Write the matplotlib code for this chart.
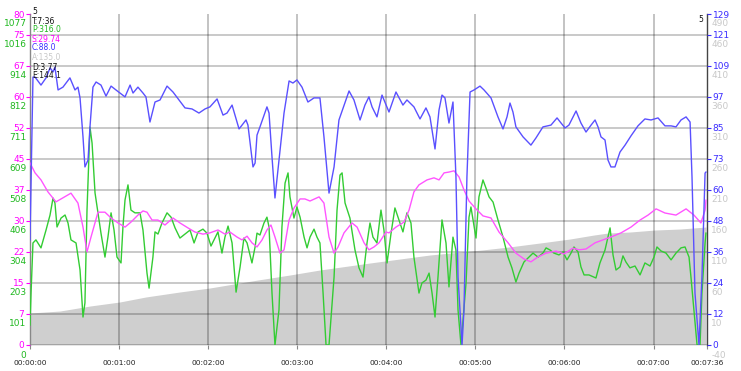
import matplotlib
matplotlib.use("Agg")
import matplotlib.pyplot as plt
from matplotlib.transforms import ScaledTranslation

plt.rcParams['font.family'] = ['DejaVu Sans']

# ---------------- data ----------------
# time in seconds
x_max = 456
xtick_s = [0, 60, 120, 180, 240, 300, 360, 420, 456]
xtick_labels = ["00:00:00", "00:01:00", "00:02:00", "00:03:00", "00:04:00",
                "00:05:00", "00:06:00", "00:07:00", "00:07:36"]
xgrid_s = [60, 120, 180, 240, 300, 360, 420]

# axis ranges and tick labels
spd_max = 80
pwr_max = 1077
cad_max = 129
alt_min, alt_max = -40, 490
spd_labels = ["0", "7", "15", "22", "30", "37", "45", "52", "60", "67", "75", "80"]
pwr_labels = ["0", "101", "203", "304", "406", "508", "609", "711", "812", "914", "1016", "1077"]
cad_labels = ["0", "12", "24", "36", "48", "60", "73", "85", "97", "109", "121", "129"]
alt_labels = ["-40", "10", "60", "110", "160", "210", "260", "310", "360", "410", "460", "490"]

# altitude (m)
alt_t = [0, 20.2, 40.4, 60.6, 78.1, 101.0, 121.2, 153.6, 175.1, 195.3, 229.0, 249.2,
         269.4, 304.4, 322.6, 343.5, 363.7, 379.9, 389.3, 404.1, 421.0, 437.8, 455.3]
alt_v = [11.2, 14.4, 22.4, 28.9, 36.9, 44.9, 51.3, 64.1, 72.1, 80.1, 91.3, 97.7,
         104.1, 112.1, 116.9, 123.3, 129.7, 136.1, 139.3, 140.9, 144.1, 145.7, 148.9]

# power (W)
pwr_t = [0, 0.7, 2.0, 4.0, 7.4, 10.8, 13.5, 15.5, 16.8, 18.2, 20.9, 23.6, 25.6, 27.6, 31.0, 33.7, 35.7, 37.0,
         38.4, 40.4, 41.8, 43.8, 45.8, 47.8, 50.5, 52.5, 54.6, 56.6, 58.6, 61.3, 62.6, 64.0, 66.0, 68.0, 70.7, 74.1,
         76.1, 78.8, 80.2, 82.8, 84.2, 86.2, 88.9, 92.3, 95.0, 97.7, 101.0, 104.4, 107.8, 110.5, 113.2, 116.5,
         119.2, 121.9, 124.6, 126.6, 129.3, 131.3, 133.4, 136.1, 138.8, 141.5, 144.1, 146.2, 149.5, 151.6, 152.9, 154.9,
         157.6, 159.6, 161.0, 163.0, 165.0, 167.7, 169.7, 171.8, 173.8, 175.1, 177.8, 179.8, 181.9, 184.6, 186.6,
         188.6, 191.3, 193.3, 195.3, 197.4, 199.4, 201.4, 204.8, 206.8, 208.8, 210.2, 212.2, 215.5, 218.9, 221.6, 224.3,
         227.0, 229.0, 231.0, 233.7, 236.4, 238.4, 240.5, 243.2, 245.8, 248.5, 251.2, 253.9, 256.6, 258.6, 262.0,
         264.0, 266.7, 268.8, 270.8, 272.8, 274.8, 277.5, 280.2, 282.2, 284.9, 286.9, 288.3, 290.3, 293.7, 295.7, 297.0, 300.4,
         302.4, 305.1, 307.1, 309.2, 311.9, 315.2, 318.6, 322.0, 324.6, 327.3, 329.4, 332.7, 336.1, 338.8, 342.2,
         345.5, 347.6, 350.3, 352.9, 356.3, 359.0, 361.7, 364.4, 366.4, 369.1, 371.1, 373.2, 376.5,
         381.2, 383.9, 386.0, 387.3, 390.7, 392.7, 394.7, 397.4, 399.4, 401.4, 404.1, 407.5, 410.9, 414.2, 417.6,
         420.3, 422.3, 425.0, 428.4, 431.8, 435.1, 438.5, 441.2, 443.9, 445.2, 447.2, 449.3, 451.3, 452.6, 454.7, 455.3]
pwr_v = [65, 169, 332, 342, 316, 374, 423, 478, 462, 384, 413, 423, 397, 342, 332, 244, 91, 137,
         439, 709, 657, 495, 430, 364, 286, 351, 430, 374, 286, 267, 384, 472, 521, 439, 430, 430,
         374, 234, 185, 286, 368, 361, 397, 430, 416, 381, 348, 361, 374, 332, 368, 377,
         364, 322, 348, 368, 299, 351, 387, 332, 172, 254, 348, 332, 267, 319, 364, 358,
         397, 416, 384, 169, 0, 114, 384, 527, 560, 482, 413, 449, 416, 351, 316,
         351, 377, 351, 332, 169, 0, 0, 221, 439, 553, 560, 462, 413, 309, 251, 221,
         332, 397, 351, 332, 439, 374, 267, 364, 446, 407, 368, 430, 397, 286, 169,
         202, 211, 234, 169, 91, 221, 407, 332, 189, 351, 309, 114, 0, 202, 416, 449, 348,
         482, 537, 511, 482, 465, 407, 351, 286, 251, 205, 234, 270, 286, 299, 286,
         299, 316, 309, 299, 293, 303, 277, 299, 319, 303, 254, 228, 228,
         218, 267, 293, 309, 381, 293, 244, 254, 290, 270, 251, 257, 228, 267, 257,
         286, 319, 306, 299, 277, 299, 316, 319, 286, 221, 114, 0, 0, 169, 332, 364]

# speed (km/h)
spd_t = [0, 3.4, 7.4, 12.1, 17.5, 20.9, 27.6, 32.3, 35.7, 38.4, 41.1, 45.8, 50.5, 54.6, 59.3, 64.0, 68.0,
         72.7, 76.1, 78.8, 82.2, 86.2, 90.9, 96.3, 101.0, 106.4, 111.1, 116.5, 121.2, 126.6, 131.3, 134.7,
         139.4, 142.8, 146.2, 149.5, 152.9, 156.3, 159.6, 162.3, 165.0, 168.4, 171.1, 174.5, 177.8, 181.9,
         185.2, 188.6, 194.7, 198.0, 201.4, 204.8, 207.5, 211.5, 216.9, 220.3, 225.0, 228.3, 231.7, 235.1,
         239.8, 241.8, 246.5, 251.9, 255.3, 258.6, 262.0, 267.4, 272.1, 275.5, 278.9, 282.2, 285.6, 289.0,
         292.3, 295.7, 300.4, 305.1, 310.5, 315.9, 322.0, 327.3, 332.7, 337.4, 342.2, 347.6, 354.3, 359.7,
         365.7, 369.8, 374.5, 380.6, 385.9, 391.3, 398.1, 404.8, 410.9, 416.3, 421.7, 427.7, 435.1, 441.9,
         447.2, 451.9, 454.7, 455.3]
spd_v = [44.0, 41.6, 39.9, 37.0, 34.6, 35.3, 36.7, 34.3, 28.5, 22.5, 26.1, 32.1, 32.1, 30.7, 29.5, 28.5, 29.7,
         31.4, 32.4, 32.1, 30.2, 30.2, 29.0, 30.7, 29.5, 28.3, 27.3, 26.8, 27.1, 27.8, 26.8, 27.3,
         26.1, 25.4, 26.3, 24.7, 23.7, 25.4, 27.8, 29.0, 26.1, 22.2, 23.0, 30.2, 33.1, 35.3,
         35.3, 34.8, 35.8, 34.3, 26.1, 22.2, 23.7, 27.1, 29.5, 28.5, 24.7, 23.0, 23.7, 24.7,
         27.3, 27.1, 28.5, 29.7, 32.6, 37.0, 38.7, 39.9, 40.4, 39.9, 41.6, 41.8, 42.1, 40.6,
         37.5, 34.8, 32.9, 31.2, 30.7, 27.3, 24.7, 22.2, 20.8, 20.1, 21.3, 22.2, 22.7, 22.0,
         23.4, 23.0, 23.2, 24.7, 25.4, 26.1, 27.1, 28.5, 30.2, 31.4, 32.9, 31.9, 31.4, 32.9,
         31.4, 29.5, 32.6, 35.0]

# cadence (rpm)
cad_t = [0, 2.0, 3.4, 7.4, 10.8, 13.5, 15.5, 16.8, 18.9, 22.2, 26.9, 30.3, 32.3, 33.7, 35.7, 37.0, 39.1,
         40.4, 42.4, 44.5, 47.8, 51.2, 54.6, 57.9, 64.0, 67.4, 69.4, 72.7, 76.1, 78.1, 80.8, 84.2, 87.6,
         92.3, 96.3, 104.4, 109.1, 113.8, 117.9, 121.2, 126.0, 130.0, 132.7, 136.1, 140.8, 145.5, 146.8,
         150.2, 151.6, 152.9, 154.9, 159.6, 161.0, 163.0, 165.0, 167.7, 171.1, 174.5, 177.1, 179.8, 183.2,
         187.2, 191.3, 195.3, 198.0, 201.4, 204.8, 208.1, 214.9, 218.2, 222.3, 225.6, 228.3, 230.4, 233.7,
         237.1, 241.8, 246.5, 251.2, 253.9, 258.6, 262.7, 266.7, 269.4, 272.8, 275.5, 277.5, 279.5, 282.2,
         284.9, 286.9, 288.3, 291.0, 292.3, 294.3, 296.4, 299.1, 303.1, 305.8, 310.5, 315.2, 318.6, 321.3,
         323.3, 325.3, 327.3, 332.1, 337.4, 340.8, 345.5, 350.9, 355.0, 357.7, 360.4, 363.0, 367.8, 371.1,
         374.5, 377.9, 380.6, 382.6, 384.6, 387.3, 389.3, 391.3, 394.0, 397.4, 400.8, 404.8, 409.5, 414.2,
         418.3, 423.0, 427.7, 431.8, 435.1, 438.5, 441.9, 444.6, 445.9, 447.9, 450.6, 452.6, 454.7, 455.3]
cad_v = [40.9, 104.4, 104.4, 101.3, 104.1, 108.0, 106.4, 108.3, 99.4, 100.5, 104.1, 99.4, 100.5, 96.3, 81.1, 69.4, 72.1,
         85.0, 100.5, 102.5, 101.3, 97.0, 100.9, 99.4, 96.7, 101.3, 98.2, 100.5, 98.2, 96.7, 86.9, 94.7, 95.5,
         100.9, 98.6, 92.4, 92.0, 90.4, 92.0, 92.8, 95.9, 89.6, 90.4, 93.5, 84.2, 87.7, 85.7,
         69.4, 70.9, 81.8, 85.0, 92.8, 90.4, 73.3, 57.3, 72.1, 90.4, 102.9, 102.1, 103.3, 100.5,
         94.7, 96.3, 96.3, 81.1, 59.2, 69.4, 87.7, 99.0, 95.5, 87.7, 93.5, 96.7, 92.8, 88.9,
         97.4, 90.8, 98.6, 93.5, 95.5, 92.8, 88.1, 92.4, 88.9, 76.4, 91.6, 97.4, 96.3, 86.5,
         94.7, 65.5, 26.5, 0.0, 13.6, 65.5, 98.6, 99.4, 100.9, 99.4, 96.3, 88.9, 84.2, 88.9,
         94.3, 90.8, 85.0, 81.1, 77.9, 80.7, 85.0, 85.7, 88.5, 86.5, 84.6, 85.7, 91.2, 86.5,
         83.0, 85.7, 87.7, 85.0, 81.1, 79.9, 72.1, 69.4, 69.4, 75.2, 77.9, 81.5, 85.4, 88.1,
         87.7, 88.5, 85.4, 85.4, 85.0, 87.7, 88.9, 86.9, 65.5, 20.3, 0.0, 26.5, 67.0, 67.4]

# summary text block (top-left)
info_lines = ["5", "T:7:36", "P:316.0", "S:29.74", "C:88.0", "A:135.0", "D:3.77", "E:144.1"]

# ---------------- style ----------------
c_pwr_line, c_pwr_txt = '#33cc33', '#1fb81f'
c_spd_line, c_spd_txt = '#ff55ff', '#ff00ff'
c_cad_line, c_cad_txt = '#5a50ff', '#3a2cff'
c_alt_fill, c_alt_txt = '#cfcfcf', '#c8c8c8'
info_colors = ['#111111', '#111111', c_pwr_txt, c_spd_txt, c_cad_txt, '#c8c8c8', '#111111', '#111111']

W, H = 741, 371
fig = plt.figure(figsize=(W / 100, H / 100), dpi=100)
L, R, B, T = 30 / W, 707 / W, (H - 345) / H, (H - 14) / H
ax = fig.add_axes([L, B, R - L, T - B])
ax.set_xlim(0, x_max)
ax.set_ylim(alt_min, alt_max)

frac = 7.5 / 80.0
ax.fill_between(alt_t, alt_v, alt_min, color=c_alt_fill, lw=0, zorder=1)
for k in range(11):
    ax.axhline(alt_min + k * frac * (alt_max - alt_min), color='k', alpha=0.27, lw=1.1, zorder=2)
for s in xgrid_s:
    ax.axvline(s, color='k', alpha=0.30, lw=1.1, zorder=2)

ax_p = ax.twinx()
ax_s = ax.twinx()
ax_c = ax.twinx()
for a in (ax_p, ax_s, ax_c):
    a.set_xlim(0, x_max)
    for sp in a.spines.values():
        sp.set_visible(False)

ax_p.set_ylim(0, pwr_max)
ax_s.set_ylim(0, spd_max)
ax_c.set_ylim(0, cad_max)

ax_p.plot(pwr_t, pwr_v, color=c_pwr_line, lw=1.0, solid_joinstyle='round')
ax_s.plot(spd_t, spd_v, color=c_spd_line, lw=1.0, solid_joinstyle='round')
ax_c.plot(cad_t, cad_v, color=c_cad_line, lw=1.0, solid_joinstyle='round')

def tick_pos(lo, hi):
    return [lo + k * frac * (hi - lo) for k in range(11)] + [hi]

off = ScaledTranslation(0, -9.0 / 100, fig.dpi_scale_trans)

# speed (left, magenta)
ax_s.yaxis.tick_left()
ax_s.set_yticks(tick_pos(0, spd_max))
ax_s.set_yticklabels(spd_labels)
ax_s.tick_params(axis='y', colors=c_spd_txt, length=3, width=0.8, pad=1, labelsize=6.5)

# power (left, green, below speed labels)
ax_p.yaxis.tick_left()
ax_p.set_yticks(tick_pos(0, pwr_max))
ax_p.set_yticklabels(pwr_labels)
ax_p.tick_params(axis='y', colors=c_pwr_txt, length=0, pad=2.5, labelsize=6.5)
for lab in ax_p.get_yticklabels():
    lab.set_transform(lab.get_transform() + off)

# cadence (right, blue)
ax_c.yaxis.tick_right()
ax_c.set_yticks(tick_pos(0, cad_max))
ax_c.set_yticklabels(cad_labels)
ax_c.tick_params(axis='y', colors=c_cad_txt, length=3, width=0.8, pad=1, labelsize=6.5)

# altitude (right, gray, below cadence labels)
ax.yaxis.tick_right()
ax.set_yticks(tick_pos(alt_min, alt_max))
ax.set_yticklabels(alt_labels)
ax.tick_params(axis='y', colors=c_alt_txt, length=0, pad=3, labelsize=6.5)
for lab in ax.get_yticklabels():
    lab.set_transform(lab.get_transform() + off)

ax.set_xticks(xtick_s)
ax.set_xticklabels(xtick_labels)
ax.tick_params(axis='x', length=3, width=0.8, color='#888888', pad=8, labelsize=5.4, labelcolor='#222222')

ax.spines['top'].set_visible(False)
ax.spines['bottom'].set_visible(False)
ax.spines['left'].set_color('#888888')
ax.spines['right'].set_color('#444444')
ax.spines['left'].set_linewidth(1.0)
ax.spines['right'].set_linewidth(1.0)

ys = [12, 21, 30, 39, 48, 58, 67, 76]
for txt, yy, col in zip(info_lines, ys, info_colors):
    fig.text(32 / W, 1 - yy / H, txt, color=col, fontsize=5.5, va='center', ha='left')
fig.text(701 / W, 1 - 20 / H, "5", color='#111111', fontsize=5.5, va='center', ha='center')

fig.savefig("out.png", dpi=100)
